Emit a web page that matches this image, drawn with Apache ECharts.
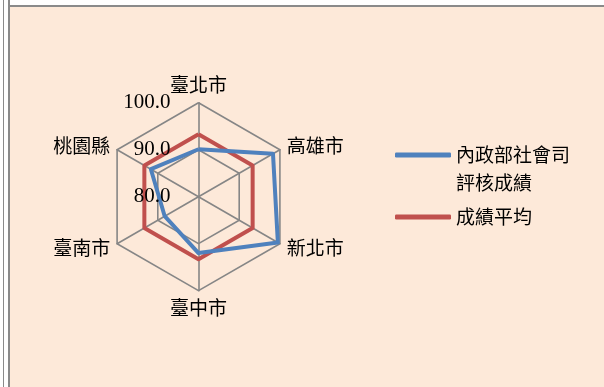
<!DOCTYPE html>
<html>
<head>
<meta charset="utf-8">
<title>評核成績雷達圖</title>
<script src="https://cdn.jsdelivr.net/npm/echarts@6/dist/echarts.min.js"></script>
<style>
  body { margin: 0; background: #fff; }
  .line { position: absolute; background: #8a8a8a; }
  #paper { position: absolute; left: 10px; top: 7px; width: 594px; height: 380px; background: #FDE9D9; }
  #main { position: absolute; left: 0; top: 0; width: 604px; height: 387px; }
</style>
</head>
<body>
<div class="line" style="left:3px;top:0;width:1px;height:387px;"></div>
<div class="line" style="left:8px;top:0;width:2px;height:387px;"></div>
<div class="line" style="left:9px;top:5px;width:595px;height:2px;"></div>
<div id="paper"></div>
<div id="main"></div>
<script type="text/javascript">
// 縣市 (由上方順時針)
var cities = ['臺北市', '高雄市', '新北市', '臺中市', '臺南市', '桃園縣'];
var scores = [90.1, 98.3, 99.5, 92.0, 88.3, 91.7];   // 內政部社會司評核成績
var avgScores = [93.3, 93.3, 93.3, 93.3, 93.3, 93.3]; // 成績平均
var ticks = [80, 90, 100];
var seriesNames = ['內政部社會司\n評核成績', '成績平均'];

var cjk = '"Noto Sans CJK TC", sans-serif';
var center = [198.5, 196.7];
var radius = 94;

// echarts radar goes counter-clockwise, so reorder
var order = [0, 5, 4, 3, 2, 1];
function reorder(arr) { return order.map(function (i) { return arr[i]; }); }

var legendText = { fontFamily: cjk, fontSize: 19, lineHeight: 28, color: '#000' };

var myChart = echarts.init(document.getElementById('main'));
myChart.setOption({
  animation: false,
  legend: [
    {
      data: [seriesNames[0]],
      // blank first line so the icon sits beside the first text line
      formatter: function (name) { return '\n' + name; },
      left: 395, top: 113, padding: 0,
      icon: 'roundRect', itemWidth: 56, itemHeight: 5,
      textStyle: legendText
    },
    {
      data: [seriesNames[1]],
      left: 395, top: 203, padding: 0,
      icon: 'roundRect', itemWidth: 56, itemHeight: 5,
      textStyle: legendText
    }
  ],
  radar: {
    center: center,
    radius: radius,
    splitNumber: ticks.length - 1,
    shape: 'polygon',
    indicator: reorder(cities).map(function (c) {
      return { name: c, min: ticks[0], max: ticks[ticks.length - 1] };
    }),
    axisName: { color: '#000', fontFamily: cjk, fontSize: 19 },
    nameGap: 8,
    axisLine: { lineStyle: { color: '#868686', width: 1.6 } },
    splitLine: { lineStyle: { color: '#868686', width: 1.6 } },
    splitArea: { show: false }
  },
  polar: { center: center, radius: radius },
  angleAxis: { type: 'value', min: 0, max: 360, startAngle: 90, show: false },
  radiusAxis: {
    type: 'value', min: ticks[0], max: ticks[ticks.length - 1], interval: 10, z: 10,
    axisLine: { show: false }, axisTick: { show: false }, splitLine: { show: false },
    axisLabel: {
      margin: 28, color: '#000', fontFamily: '"Liberation Serif", serif', fontSize: 21,
      formatter: function (v) { return v.toFixed(1); }
    }
  },
  series: [
    {
      type: 'radar', symbol: 'none',
      data: [{ name: seriesNames[1], value: reorder(avgScores) }],
      itemStyle: { color: '#C0504D' },
      lineStyle: { color: '#C0504D', width: 4 }
    },
    {
      type: 'radar', symbol: 'none',
      data: [{ name: seriesNames[0], value: reorder(scores) }],
      itemStyle: { color: '#4F81BD' },
      lineStyle: { color: '#4F81BD', width: 4 }
    }
  ]
});
</script>
</body>
</html>
